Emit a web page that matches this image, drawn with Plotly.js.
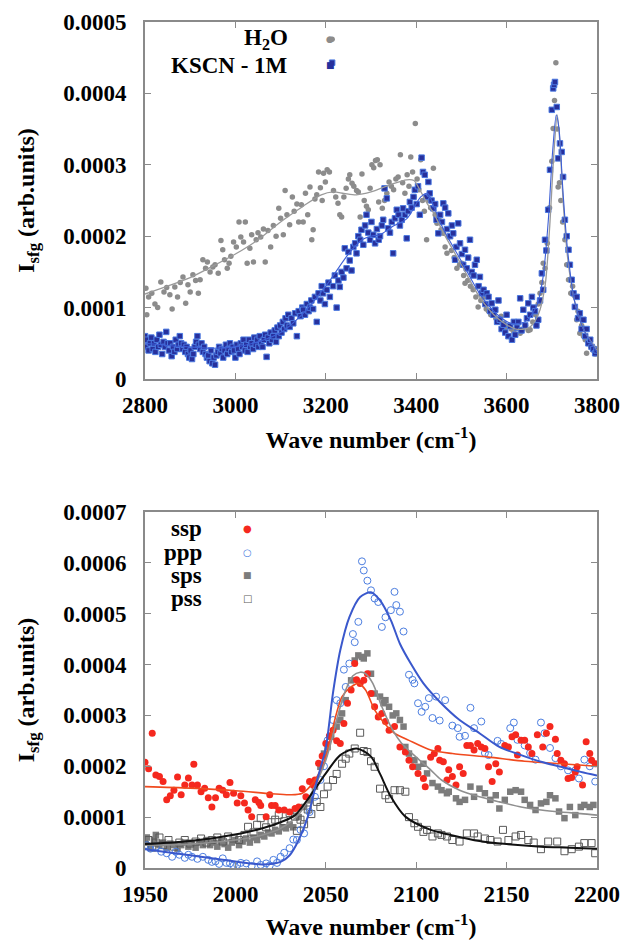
<!DOCTYPE html>
<html>
<head>
<meta charset="utf-8">
<script src="https://cdn.plot.ly/plotly-3.0.1.min.js"></script>
<style>html,body{margin:0;padding:0;background:#fff;}#chart{width:625px;height:941px;}</style>
</head>
<body>
<div id="chart"></div>
<script>
// Values in units of 1e-4 (arb.units); SCALE converts to plotted units
const SCALE = 1e-4;

// ---------- Top panel: H2O vs KSCN 1M ----------
const h2oX = [2802,2804,2808,2815,2822,2828,2835,2842,2848,2855,2860,2866,2872,2878,2884,2890,2895,2900,2906,2912,2918,2922,2928,2934,2938,2944,2950,2955,2962,2968,2972,2976,2982,2986,2990,2996,3002,3008,3012,3018,3022,3026,3032,3036,3040,3046,3050,3056,3062,3066,3072,3078,3084,3090,3096,3100,3106,3110,3114,3120,3126,3130,3136,3140,3146,3150,3155,3160,3165,3169,3172,3176,3180,3184,3188,3192,3195,3199,3203,3208,3214,3217,3222,3227,3231,3235,3240,3245,3250,3253,3258,3262,3268,3272,3276,3280,3285,3290,3294,3298,3302,3306,3310,3314,3317,3320,3325,3330,3335,3340,3345,3350,3355,3360,3365,3370,3375,3380,3384,3388,3392,3396,3398,3402,3406,3410,3414,3418,3423,3428,3432,3438,3442,3446,3450,3455,3460,3464,3468,3472,3478,3484,3490,3496,3501,3505,3508,3514,3520,3526,3532,3537,3543,3549,3555,3560,3565,3570,3576,3582,3588,3593,3598,3604,3610,3616,3622,3630,3636,3642,3648,3652,3658,3664,3670,3674,3678,3681,3685,3690,3695,3700,3703,3706,3709,3712,3714,3717,3720,3724,3729,3733,3737,3742,3746,3751,3755,3758,3762,3766,3770,3774,3777,3782,3786,3792,3796,3799];
const h2oY = [1.27,0.9,1.15,1.2,1.05,1.0,1.36,1.22,1.28,1.18,0.98,1.29,1.15,1.35,1.43,1.06,1.32,1.22,1.46,1.38,1.2,1.39,1.67,1.55,1.64,1.5,1.57,1.6,1.48,1.94,1.81,1.67,1.55,1.62,1.72,1.92,1.85,2.2,1.99,1.92,2.2,1.62,1.83,2.02,1.64,1.95,2.05,1.99,2.1,1.64,2.08,1.85,2.15,2.0,2.39,2.25,2.02,2.64,2.3,2.16,2.55,2.35,2.45,2.2,2.44,2.2,2.6,2.3,2.69,1.95,2.09,2.52,2.58,2.9,2.68,2.5,2.88,2.76,2.93,2.9,4.76,2.64,2.55,2.46,2.3,2.27,2.55,2.67,2.8,2.86,2.74,2.7,2.64,2.62,2.27,2.87,2.5,2.42,2.37,2.67,3.0,2.96,3.06,3.07,2.48,3.0,2.39,2.5,2.6,2.76,2.7,2.65,2.8,2.83,3.14,2.75,2.6,2.86,2.7,3.11,2.9,2.55,3.58,2.8,2.65,3.07,2.5,2.35,1.95,2.5,2.4,2.95,2.3,2.18,2.25,2.09,2.04,1.85,1.76,1.99,1.8,1.7,1.55,1.6,1.62,1.45,1.34,1.38,1.3,1.25,1.15,1.01,1.1,1.15,0.98,0.95,0.9,0.92,0.85,0.8,0.88,0.78,0.72,0.75,0.7,0.66,0.72,0.64,0.7,0.75,0.68,0.69,0.8,0.9,1.05,1.2,1.35,1.62,1.55,1.9,2.4,3.05,3.51,3.9,4.43,3.5,2.69,2.75,2.5,2.2,1.95,1.6,1.39,1.2,1.3,1.16,0.83,0.95,0.64,0.75,0.6,0.55,0.36,0.5,0.45,0.4,0.35,0.42];

const kscnX = [2800,2802,2805,2808,2811,2814,2817,2820,2823,2826,2829,2832,2835,2838,2841,2844,2847,2850,2853,2856,2859,2862,2865,2868,2871,2874,2877,2880,2883,2886,2889,2892,2895,2898,2901,2904,2907,2910,2913,2916,2919,2922,2925,2928,2931,2934,2937,2940,2943,2946,2949,2952,2955,2958,2961,2964,2967,2970,2973,2976,2979,2982,2985,2988,2991,2994,2997,3000,3003,3006,3009,3012,3015,3018,3021,3024,3027,3030,3033,3036,3039,3042,3045,3048,3051,3054,3057,3060,3063,3066,3069,3072,3075,3078,3081,3084,3087,3090,3093,3096,3099,3102,3105,3108,3111,3114,3117,3120,3124,3128,3132,3136,3140,3144,3148,3150,3154,3158,3162,3165,3168,3172,3176,3180,3184,3188,3191,3194,3198,3202,3206,3209,3214,3216,3220,3224,3228,3231,3235,3239,3242,3246,3250,3253,3257,3261,3265,3268,3272,3276,3279,3283,3287,3290,3294,3298,3301,3305,3309,3313,3317,3320,3324,3327,3330,3335,3338,3342,3346,3349,3353,3357,3361,3364,3368,3371,3375,3379,3382,3386,3390,3394,3397,3401,3404,3408,3412,3415,3419,3423,3427,3430,3434,3438,3442,3445,3449,3453,3457,3460,3464,3468,3471,3475,3479,3482,3486,3489,3493,3497,3501,3504,3508,3512,3515,3519,3523,3527,3530,3534,3538,3541,3545,3549,3553,3556,3560,3564,3567,3571,3575,3579,3582,3585,3589,3593,3597,3600,3604,3608,3612,3616,3619,3623,3626,3630,3633,3637,3641,3645,3648,3652,3656,3659,3663,3666,3670,3674,3678,3681,3685,3688,3692,3696,3700,3703,3705,3707,3711,3714,3718,3722,3725,3729,3733,3737,3740,3744,3748,3751,3755,3758,3762,3766,3770,3774,3777,3781,3785,3788,3792,3796,3799];
const kscnY = [0.6,0.45,0.55,0.4,0.5,0.58,0.42,0.5,0.38,0.55,0.45,0.62,0.48,0.35,0.52,0.45,0.66,0.5,0.4,0.5,0.32,0.45,0.38,0.55,0.42,0.48,0.6,0.5,0.42,0.48,0.38,0.45,0.35,0.3,0.4,0.28,0.35,0.45,0.52,0.6,0.48,0.42,0.5,0.38,0.45,0.35,0.3,0.33,0.25,0.4,0.22,0.3,0.2,0.33,0.38,0.45,0.36,0.42,0.3,0.4,0.48,0.35,0.42,0.5,0.38,0.45,0.4,0.3,0.48,0.42,0.35,0.5,0.45,0.55,0.4,0.48,0.38,0.55,0.45,0.5,0.42,0.58,0.48,0.55,0.45,0.6,0.5,0.45,0.55,0.62,0.31,0.58,0.5,0.65,0.55,0.6,0.68,0.52,0.72,0.6,0.75,0.65,0.8,0.7,0.85,0.75,0.9,0.73,0.85,0.78,0.92,0.6,0.95,0.88,1.0,0.97,0.9,1.05,0.95,1.0,1.1,0.98,1.15,0.8,1.2,1.1,1.3,1.2,1.05,1.25,1.35,1.15,4.43,1.3,1.45,1.0,1.38,1.29,1.5,1.42,1.83,1.55,1.78,1.66,1.52,1.85,1.9,1.76,2.0,1.95,2.09,1.88,2.15,2.3,2.05,1.95,2.2,2.02,1.9,2.1,1.95,2.0,2.15,2.23,2.67,2.53,2.11,2.05,2.2,1.76,2.25,2.37,2.3,2.15,2.23,2.39,2.3,1.97,2.35,2.48,2.4,2.55,2.65,2.45,2.7,2.3,3.1,2.9,2.86,2.55,2.76,2.6,2.5,2.39,2.45,2.23,2.04,2.3,2.2,2.46,2.4,2.1,2.32,2.0,2.15,2.04,1.67,1.85,2.18,1.9,1.75,1.6,1.81,1.55,1.7,1.95,1.5,1.45,1.6,1.67,1.3,1.43,1.2,1.25,1.05,1.2,1.15,0.95,1.06,0.9,0.97,0.8,1.1,0.83,0.7,0.76,0.65,0.9,0.6,0.74,0.55,0.8,0.62,0.72,0.8,1.13,0.68,0.97,0.75,0.85,1.06,0.9,1.15,1.0,0.95,0.75,0.83,1.1,1.48,1.25,1.95,1.8,2.37,2.93,3.77,4.07,4.12,4.16,3.81,3.09,3.3,3.18,2.83,2.23,2.0,1.81,1.6,1.39,1.2,1.01,1.15,0.85,0.92,0.7,0.83,0.6,0.7,0.5,0.55,0.45,0.42,0.36,0.4];

const h2oFitX = [2800,2850,2900,2950,3000,3050,3100,3150,3190,3217,3240,3268,3300,3342,3379,3395,3408,3425,3438,3460,3500,3540,3580,3620,3650,3670,3685,3695,3705,3712,3718,3725,3735,3750,3770,3800];
const h2oFitY = [1.19,1.3,1.42,1.58,1.75,1.95,2.2,2.42,2.58,2.62,2.6,2.58,2.62,2.72,2.79,2.78,2.65,2.45,2.33,2.05,1.6,1.15,0.85,0.7,0.72,0.9,1.3,2.1,3.2,3.7,3.3,2.5,1.7,1.1,0.7,0.4];
const kscnFitX = [2800,2850,2900,2950,3000,3050,3100,3150,3200,3250,3280,3300,3320,3346,3380,3410,3425,3440,3460,3500,3540,3580,3610,3640,3665,3680,3692,3702,3710,3716,3725,3735,3750,3770,3800];
const kscnFitY = [0.5,0.47,0.45,0.43,0.45,0.52,0.65,0.92,1.3,1.75,1.95,2.0,2.02,2.13,2.25,2.55,2.6,2.4,2.1,1.65,1.2,0.9,0.78,0.8,1.0,1.4,2.2,3.2,3.7,3.5,2.6,1.8,1.1,0.7,0.38];

// ---------- Bottom panel: polarisation combinations ----------
const sspX = [1950,1952,1954,1956,1958,1960,1962,1964,1966,1968,1970,1972,1974,1976,1977,1979,1981,1983,1985,1987,1989,1991,1993,1995,1997,1999,2001,2003,2005,2007,2009,2011,2013,2014,2017,2019,2020,2022,2024,2027,2030,2033,2035,2037,2039,2041,2043,2044,2046,2048,2050,2052,2054,2056,2058,2060,2062,2064,2066,2067,2069,2071,2073,2075,2077,2079,2081,2083,2085,2088,2091,2094,2096,2098,2101,2104,2105,2108,2110,2112,2113,2115,2117,2118,2120,2122,2124,2126,2128,2130,2132,2134,2136,2138,2140,2142,2144,2146,2149,2151,2153,2155,2156,2158,2160,2162,2164,2167,2170,2172,2174,2177,2178,2180,2182,2184,2186,2188,2189,2192,2194,2196,2197,2199];
const sspY = [2.08,1.95,2.65,1.83,1.8,1.7,1.34,1.42,1.53,1.79,1.44,1.63,1.77,1.63,2.04,1.63,1.5,1.57,1.38,1.2,1.38,1.57,1.53,1.44,1.68,1.47,1.28,1.42,1.28,1.14,1.01,1.34,1.29,1.23,1.01,1.44,1.23,1.23,1.14,1.14,1.1,1.17,1.2,1.56,1.4,1.7,1.63,1.73,2.06,2.2,2.45,2.6,2.71,2.5,2.45,2.84,3.24,3.5,4.02,3.7,3.63,3.69,3.82,3.43,3.17,2.97,3.04,2.88,2.71,2.78,2.38,2.28,2.12,1.99,1.86,1.76,1.6,2.18,2.25,2.35,2.12,2.09,1.73,1.93,1.8,1.63,1.99,1.86,2.41,2.41,2.32,2.45,2.38,2.35,1.99,1.7,2.05,1.89,2.41,2.38,2.58,2.62,2.22,2.51,2.51,2.38,2.25,2.62,2.38,2.65,2.78,2.53,2.25,2.12,2.05,1.76,1.78,1.89,1.99,1.63,2.48,2.25,2.12,2.05];

const pppX = [1951,1953,1956,1959,1962,1965,1967,1969,1972,1974,1976,1979,1982,1985,1987,1989,1991,1993,1995,1997,1999,2001,2003,2006,2009,2012,2014,2017,2019,2021,2023,2025,2027,2030,2032,2034,2036,2038,2041,2044,2047,2049,2051,2054,2056,2058,2060,2061,2063,2065,2066,2068,2070,2071,2073,2075,2077,2079,2081,2083,2086,2088,2089,2091,2093,2096,2098,2099,2101,2103,2105,2107,2109,2111,2113,2116,2120,2123,2124,2127,2130,2132,2136,2138,2140,2145,2147,2152,2154,2156,2160,2163,2166,2169,2171,2174,2177,2180,2184,2188,2190,2193,2196,2199];
const pppY = [0.45,0.38,0.42,0.32,0.29,0.22,0.32,0.26,0.2,0.26,0.22,0.18,0.22,0.16,0.12,0.13,0.08,0.19,0.1,0.09,0.05,0.06,0.1,0.09,0.04,0.13,0.06,0.09,0.05,0.16,0.1,0.22,0.3,0.39,0.56,0.55,0.75,0.68,1.1,1.4,1.73,2.0,2.51,2.91,3.3,3.24,3.9,3.56,4.02,4.6,4.44,4.84,6.03,5.85,5.65,5.46,5.3,5.23,4.74,4.93,5.07,5.43,5.17,5.04,4.65,3.8,3.7,3.63,3.24,3.07,3.17,3.34,2.95,3.37,2.9,3.3,2.8,2.75,2.58,2.6,3.15,2.75,2.88,2.26,2.22,2.5,2.44,2.75,2.86,2.52,2.41,2.26,2.13,2.86,2.65,2.36,2.16,2.0,1.92,1.92,1.76,2.13,2.0,1.7];

const spsX = [1950,1951,1953,1955,1956,1958,1960,1962,1964,1966,1968,1970,1972,1974,1976,1978,1980,1982,1984,1986,1988,1990,1992,1994,1996,1998,2000,2002,2004,2006,2008,2010,2012,2014,2016,2018,2020,2022,2024,2026,2028,2030,2032,2035,2038,2041,2044,2047,2049,2051,2053,2056,2058,2059,2061,2064,2066,2068,2070,2071,2073,2075,2077,2080,2082,2083,2085,2087,2089,2091,2093,2094,2096,2099,2101,2104,2106,2109,2112,2114,2117,2118,2122,2124,2127,2130,2132,2135,2138,2141,2144,2146,2149,2152,2155,2158,2160,2163,2166,2169,2172,2174,2177,2179,2182,2185,2188,2191,2193,2196,2198];
const spsY = [0.5,0.6,0.42,0.55,0.65,0.45,0.5,0.4,0.48,0.45,0.38,0.45,0.5,0.42,0.48,0.4,0.5,0.45,0.55,0.45,0.5,0.42,0.52,0.47,0.4,0.5,0.55,0.45,0.52,0.58,0.5,0.6,0.55,0.65,0.62,0.7,0.68,0.75,0.72,0.8,0.78,0.85,0.8,1.0,1.2,1.33,1.6,1.99,2.25,2.38,2.58,2.78,2.91,3.04,3.3,3.69,4.08,4.18,4.15,4.12,4.22,3.82,3.43,3.37,3.24,3.3,3.17,3.0,3.04,2.91,2.78,2.38,2.25,2.12,1.99,2.05,1.86,1.67,1.6,1.53,1.47,1.5,1.37,1.3,1.34,1.6,1.4,1.56,1.47,1.34,1.43,1.17,1.34,1.5,1.53,1.5,1.34,1.24,1.14,1.27,1.3,1.43,1.37,1.11,0.98,1.2,1.04,1.2,1.24,1.2,1.24];

const pssX = [1950,1952,1954,1956,1958,1960,1963,1966,1969,1972,1975,1978,1981,1984,1987,1990,1993,1996,1999,2002,2005,2007,2010,2012,2014,2017,2020,2022,2024,2027,2030,2033,2034,2036,2038,2040,2042,2045,2047,2049,2051,2054,2056,2059,2061,2063,2066,2069,2071,2073,2075,2077,2080,2083,2085,2088,2091,2094,2096,2099,2101,2104,2106,2109,2112,2114,2117,2120,2124,2128,2132,2134,2138,2141,2145,2148,2151,2155,2158,2162,2165,2169,2173,2178,2182,2186,2190,2193,2197,2199];
const pssY = [0.45,0.55,0.4,0.5,0.6,0.45,0.55,0.42,0.5,0.55,0.48,0.52,0.58,0.5,0.55,0.6,0.52,0.62,0.58,0.55,0.65,0.81,0.7,0.85,0.98,0.8,0.9,0.95,1.04,0.92,1.08,1.01,0.73,0.95,0.86,1.15,1.06,1.3,1.2,1.45,1.6,1.73,1.85,2.05,2.15,2.25,2.35,2.66,2.3,2.28,2.1,1.99,1.56,1.43,1.36,1.53,1.53,1.5,1.0,0.88,0.81,0.71,0.75,0.62,0.68,0.65,0.62,0.55,0.52,0.68,0.68,0.62,0.58,0.55,0.52,0.75,0.55,0.62,0.65,0.55,0.5,0.37,0.52,0.52,0.33,0.37,0.42,0.49,0.49,0.29];

const sspFitX = [1950,1975,2000,2020,2030,2037,2044,2050,2054,2059,2064,2068,2072,2077,2083,2088,2096,2108,2120,2140,2160,2180,2200];
const sspFitY = [1.6,1.57,1.52,1.46,1.44,1.47,1.73,2.18,2.78,3.37,3.56,3.63,3.5,3.11,2.82,2.65,2.51,2.32,2.25,2.18,2.1,2.05,2.0];
const pppFitX = [1950,1975,2000,2015,2025,2030,2035,2040,2045,2050,2054,2058,2063,2069,2075,2080,2086,2091,2097,2104,2113,2124,2135,2146,2158,2169,2180,2191,2200];
const pppFitY = [0.37,0.25,0.13,0.07,0.12,0.25,0.55,1.0,1.7,2.37,3.45,4.28,4.93,5.33,5.42,5.26,4.87,4.41,4.02,3.63,3.27,2.91,2.65,2.38,2.22,2.09,1.99,1.89,1.82];
const spsFitX = [1950,1975,2000,2015,2025,2035,2041,2050,2058,2061,2065,2069,2072,2076,2081,2087,2092,2100,2108,2114,2124,2135,2146,2158,2169,2180,2191,2200];
const spsFitY = [0.45,0.47,0.55,0.65,0.78,1.05,1.4,2.12,3.17,3.5,3.78,3.85,3.82,3.63,3.17,2.71,2.45,2.18,1.93,1.73,1.53,1.4,1.3,1.2,1.14,1.1,1.07,1.04];
const pssFitX = [1950,1975,2003,2015,2025,2033,2041,2050,2058,2067,2075,2080,2086,2094,2108,2119,2135,2150,2169,2185,2200];
const pssFitY = [0.47,0.53,0.68,0.78,0.9,1.04,1.4,1.86,2.22,2.35,2.19,1.85,1.4,1.01,0.75,0.65,0.53,0.47,0.42,0.4,0.38];

// Tick values / labels
const topXTicks = [2800,3000,3200,3400,3600,3800];
const topYTicks = [0,1,2,3,4,5];
const topYText = ['0','0.0001','0.0002','0.0003','0.0004','0.0005'];
const botXTicks = [1950,2000,2050,2100,2150,2200];
const botYTicks = [0,1,2,3,4,5,6,7];
const botYText = ['0','0.0001','0.0002','0.0003','0.0004','0.0005','0.0006','0.0007'];

const sc = a => a.map(v => v * SCALE);

const FONT = 'Liberation Serif';
const tickFont = {family: FONT, size: 23, color: '#000', weight: 700};
const titleFont = {family: FONT, size: 24, color: '#000', weight: 700};
const AX = '#8a8a8a';

const traces = [
  {x: h2oX, y: sc(h2oY), xaxis: 'x', yaxis: 'y', mode: 'markers', type: 'scatter', name: 'H2O',
   marker: {symbol: 'circle', size: 5.5, color: '#8c8c8c'}},
  {x: kscnX, y: sc(kscnY), xaxis: 'x', yaxis: 'y', mode: 'markers', type: 'scatter', name: 'KSCN - 1M',
   marker: {symbol: 'square', size: 5.5, color: '#27309c', line: {color: '#4a78e0', width: 1}}},
  {x: h2oFitX, y: sc(h2oFitY), xaxis: 'x', yaxis: 'y', mode: 'lines', type: 'scatter',
   line: {color: '#9a9a9a', width: 1.3, shape: 'spline', smoothing: 0.8}},
  {x: kscnFitX, y: sc(kscnFitY), xaxis: 'x', yaxis: 'y', mode: 'lines', type: 'scatter',
   line: {color: '#3d5fd6', width: 1.1, shape: 'spline', smoothing: 0.8}},

  {x: spsX, y: sc(spsY), xaxis: 'x2', yaxis: 'y2', mode: 'markers', type: 'scatter', name: 'sps',
   marker: {symbol: 'square', size: 6.5, color: '#7c7c7c'}},
  {x: pssX, y: sc(pssY), xaxis: 'x2', yaxis: 'y2', mode: 'markers', type: 'scatter', name: 'pss',
   marker: {symbol: 'square-open', size: 7, color: '#5a5a5a', line: {width: 1}}},
  {x: pppX, y: sc(pppY), xaxis: 'x2', yaxis: 'y2', mode: 'markers', type: 'scatter', name: 'ppp',
   marker: {symbol: 'circle-open', size: 7, color: '#4c7ee0', line: {width: 1}}},
  {x: sspX, y: sc(sspY), xaxis: 'x2', yaxis: 'y2', mode: 'markers', type: 'scatter', name: 'ssp',
   marker: {symbol: 'circle', size: 7, color: '#f5281e'}},
  {x: sspFitX, y: sc(sspFitY), xaxis: 'x2', yaxis: 'y2', mode: 'lines', type: 'scatter',
   line: {color: '#f04a1e', width: 1.6, shape: 'spline', smoothing: 0.8}},
  {x: spsFitX, y: sc(spsFitY), xaxis: 'x2', yaxis: 'y2', mode: 'lines', type: 'scatter',
   line: {color: '#8f8f8f', width: 1.6, shape: 'spline', smoothing: 0.8}},
  {x: pssFitX, y: sc(pssFitY), xaxis: 'x2', yaxis: 'y2', mode: 'lines', type: 'scatter',
   line: {color: '#111111', width: 2, shape: 'spline', smoothing: 0.8}},
  {x: pppFitX, y: sc(pppFitY), xaxis: 'x2', yaxis: 'y2', mode: 'lines', type: 'scatter',
   line: {color: '#3a58cc', width: 2, shape: 'spline', smoothing: 0.8}}
];

const xBase = {
  showgrid: false, zeroline: false, showline: true, linecolor: AX, linewidth: 2,
  mirror: 'ticks', ticks: 'inside', ticklen: 6, tickwidth: 1, tickcolor: AX,
  tickfont: tickFont, ticklabelstandoff: 4
};
const yBase = Object.assign({}, xBase, {ticklabelstandoff: 12});

const W = 625, H = 941;
const layout = {
  width: W, height: H,
  margin: {l: 0, r: 0, t: 0, b: 0},
  paper_bgcolor: '#fff', plot_bgcolor: '#fff',
  font: {family: FONT},
  showlegend: false,
  xaxis: Object.assign({}, xBase, {
    domain: [145/W, 597/W], anchor: 'y', range: [2800, 3800],
    tickvals: topXTicks,
    title: {text: 'Wave number (cm<sup>-1</sup>)', font: titleFont, standoff: 15}
  }),
  yaxis: Object.assign({}, yBase, {
    domain: [1 - 379/H, 1 - 22/H], anchor: 'x', range: [0, 0.0005],
    tickvals: sc(topYTicks), ticktext: topYText,
    title: {text: 'I<sub>sfg</sub> (arb.units)', font: titleFont, standoff: 22}
  }),
  xaxis2: Object.assign({}, xBase, {
    domain: [145/W, 597/W], anchor: 'y2', range: [1950, 2200],
    tickvals: botXTicks,
    title: {text: 'Wave number (cm<sup>-1</sup>)', font: titleFont, standoff: 13}
  }),
  yaxis2: Object.assign({}, yBase, {
    domain: [1 - 868/H, 1 - 512/H], anchor: 'x2', range: [0, 0.0007],
    tickvals: sc(botYTicks), ticktext: botYText,
    title: {text: 'I<sub>sfg</sub> (arb.units)', font: titleFont, standoff: 22}
  }),
  annotations: []
};

// Legend (gnuplot style: label right-aligned, key symbol on the right)
const legFont = {family: FONT, size: 23, color: '#000', weight: 700};
function legend(label, sym, symColor, symSize, px, py, symPx) {
  layout.annotations.push({xref: 'paper', yref: 'paper', x: px / W, y: 1 - py / H,
    xanchor: 'right', yanchor: 'middle', text: label, showarrow: false, font: legFont});
  layout.annotations.push({xref: 'paper', yref: 'paper', x: symPx / W, y: 1 - py / H,
    xanchor: 'center', yanchor: 'middle', text: sym, showarrow: false,
    font: {family: 'DejaVu Sans', size: symSize, color: symColor}});
}
legend('H<sub>2</sub>O', '●', '#8c8c8c', 9, 290, 39, 330);
legend('KSCN - 1M', '■', '#27309c', 9, 290, 65, 330);
legend('ssp', '●', '#f5281e', 10, 204, 528, 247);
legend('ppp', '○', '#4c7ee0', 10, 204, 552, 247);
legend('sps', '■', '#7c7c7c', 9, 204, 575, 247);
legend('pss', '□', '#5a5a5a', 10, 204, 598, 247);

Plotly.newPlot('chart', traces, layout, {displayModeBar: false, staticPlot: true});
</script>
</body>
</html>
